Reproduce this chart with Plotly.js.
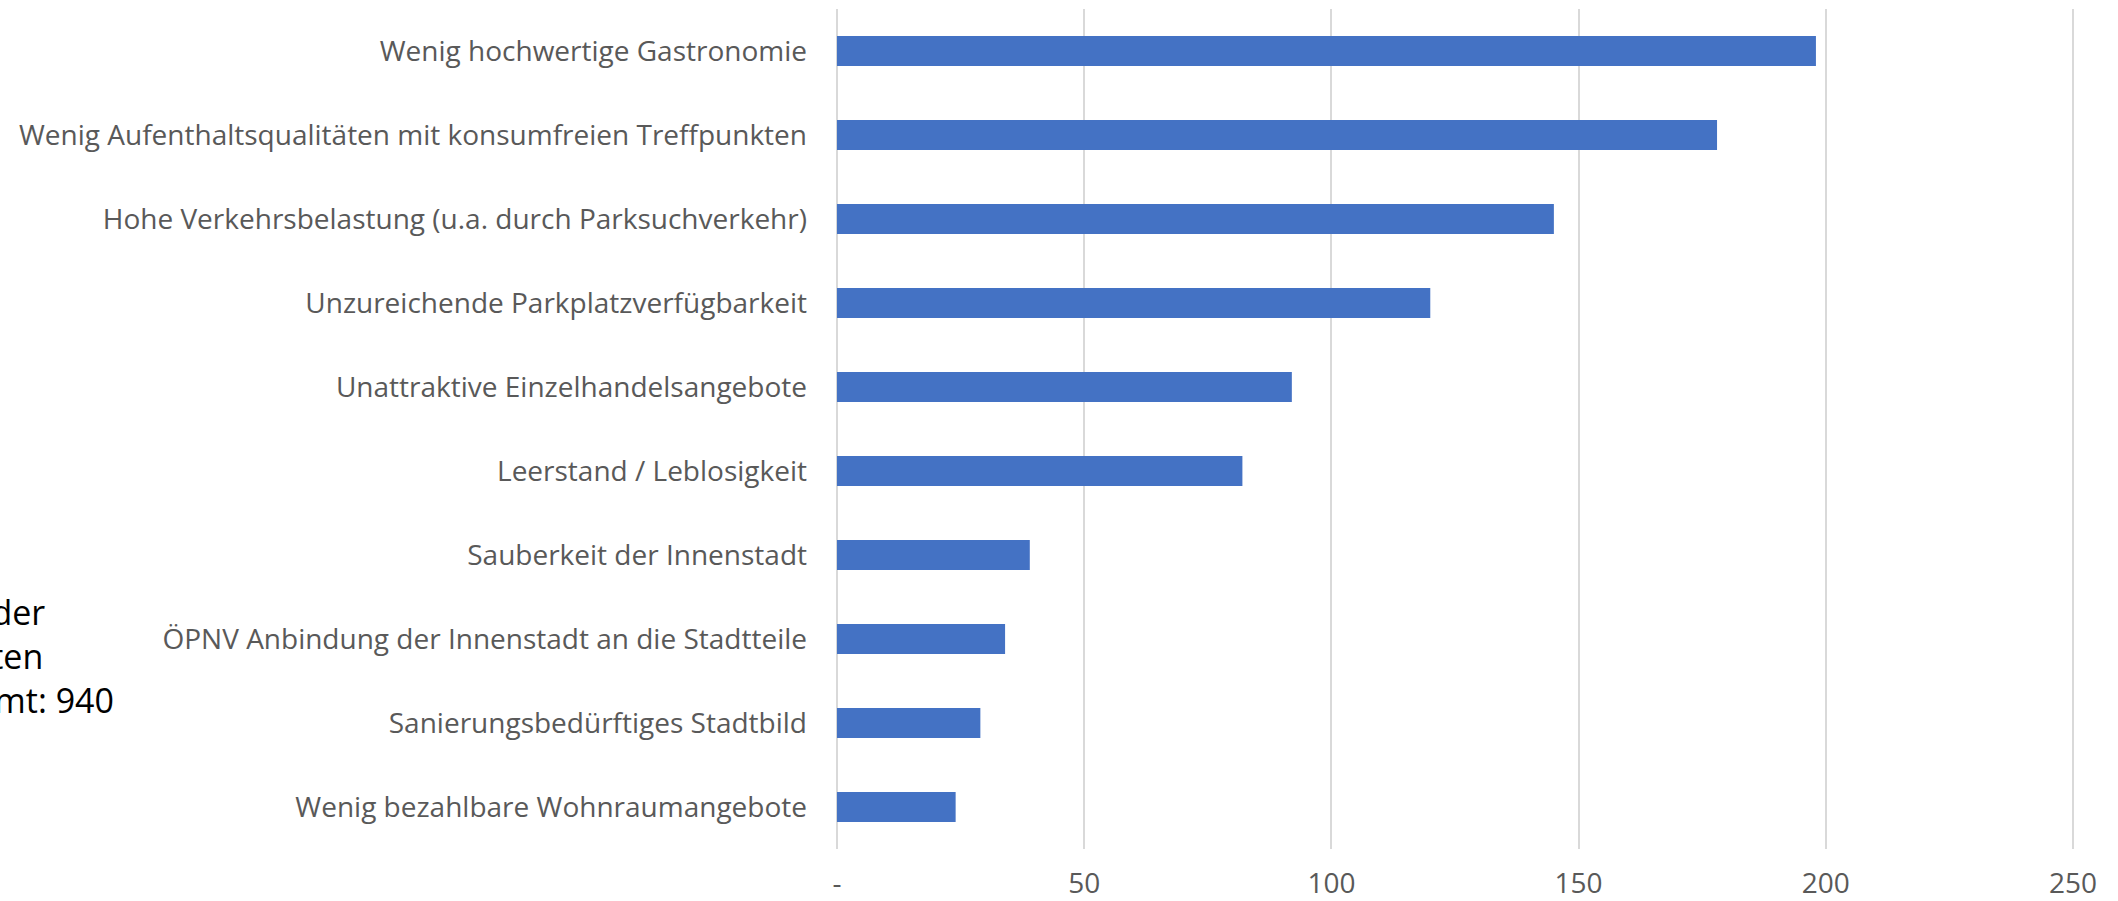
<!DOCTYPE html>
<html>
<head>
<meta charset="utf-8">
<script src="https://cdn.plot.ly/plotly-3.0.1.min.js"></script>
<style>
  html, body { margin: 0; padding: 0; background: #ffffff; }
  #chart { width: 2118px; height: 901px; }
</style>
</head>
<body>
<div id="chart"></div>
<script>
const categories = [
  "Wenig hochwertige Gastronomie",
  "Wenig Aufenthaltsqualitäten mit konsumfreien Treffpunkten",
  "Hohe Verkehrsbelastung (u.a. durch Parksuchverkehr)",
  "Unzureichende Parkplatzverfügbarkeit",
  "Unattraktive Einzelhandelsangebote",
  "Leerstand / Leblosigkeit",
  "Sauberkeit der Innenstadt",
  "ÖPNV Anbindung der Innenstadt an die Stadtteile",
  "Sanierungsbedürftiges Stadtbild",
  "Wenig bezahlbare Wohnraumangebote"
];
const counts = [198, 178, 145, 120, 92, 82, 39, 34, 29, 24];
const tickValues = [0, 50, 100, 150, 200, 250];
const tickLabels = ["-", "50", "100", "150", "200", "250"];
const noteText = "Anzahl der<br>Antworten<br>insgesamt: 940";

const trace = {
  type: "bar",
  orientation: "h",
  x: counts,
  y: categories,
  marker: { color: "#4472C4", line: { width: 0 } },
  hoverinfo: "x+y"
};

const layout = {
  width: 2118,
  height: 901,
  margin: { l: 835, r: 43, t: 9, b: 52, pad: 0 },
  paper_bgcolor: "#ffffff",
  plot_bgcolor: "#ffffff",
  font: { family: "Open Sans, Noto Sans, sans-serif", size: 28, color: "#595959" },
  showlegend: false,
  bargap: 0.643,
  xaxis: {
    range: [-0.4, 250.4],
    tickmode: "array",
    tickvals: tickValues,
    ticktext: tickLabels,
    showgrid: true,
    gridcolor: "#d9d9d9",
    gridwidth: 2,
    zeroline: false,
    showline: false,
    ticks: "",
    ticklabelstandoff: 15,
    tickfont: { size: 28, color: "#595959" },
    fixedrange: true
  },
  yaxis: {
    type: "category",
    autorange: "reversed",
    showgrid: false,
    zeroline: false,
    showline: false,
    ticks: "",
    ticklabelstandoff: 27,
    tickfont: { size: 28, color: "#595959" },
    fixedrange: true
  },
  annotations: [{
    text: noteText,
    xref: "paper",
    yref: "paper",
    x: -0.775,
    y: 0.2298,
    xanchor: "left",
    yanchor: "middle",
    align: "left",
    showarrow: false,
    font: { family: "Open Sans, Noto Sans, sans-serif", size: 34, color: "#000000" }
  }]
};

Plotly.newPlot("chart", [trace], layout, { staticPlot: true, displayModeBar: false });
</script>
</body>
</html>
